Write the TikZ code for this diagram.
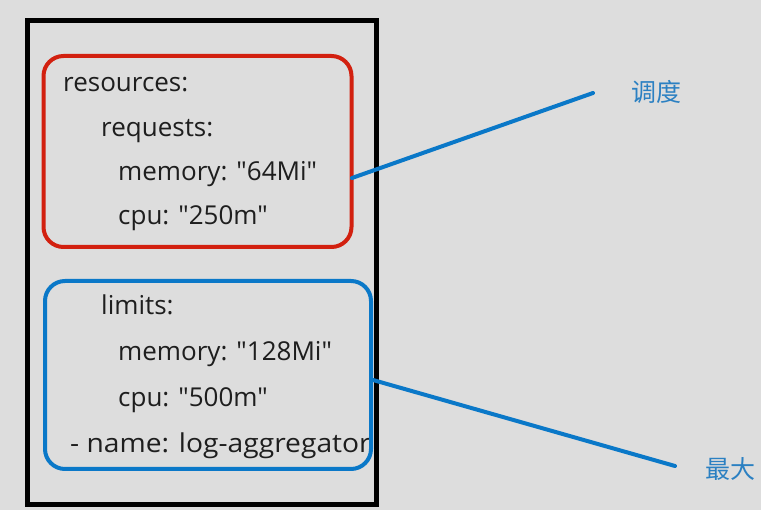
\documentclass[tikz,border=0pt]{standalone}
\usepackage{fontspec}
\usepackage{graphicx}
\newfontfamily\codefont{Open Sans}
\newfontfamily\cjk{Noto Sans CJK SC}
\definecolor{bgc}{HTML}{DDDDDD}
\definecolor{redc}{HTML}{D2200F}
\definecolor{bluec}{HTML}{0A78C8}
\definecolor{lblc}{HTML}{2B80C2}
\definecolor{txtc}{HTML}{1E1E1E}
\tikzset{
  codetext/.style={anchor=base west, inner sep=0pt, text=txtc, font=\codefont\fontsize{26}{30}\selectfont},
  boxframe/.style={draw, line width=4pt, rounded corners=20pt, inner sep=0pt},
  link/.style={draw=bluec, line width=4pt, line cap=round},
  lbl/.style={text=lblc, inner sep=0pt, font=\cjk\fontsize{25}{30}\selectfont}
}
\begin{document}
\begin{tikzpicture}[x=1pt,y=-1pt]
\fill[bgc] (0,0) rectangle (761,510);
\useasboundingbox (0,0) rectangle (761,510);
\node[draw=black, line width=5pt, minimum width=349pt, minimum height=484pt, inner sep=0pt] (outer) at (201.5,263) {};
\node[boxframe, draw=redc, minimum width=308pt, minimum height=191pt] (req) at (197.5,151.5) {};
\node[codetext] (t1) at (63,92) {resources:};
\node[codetext] (t2) at (101,137) {requests:};
\node[codetext] (t3) at (118,181) {memory: "64Mi"};
\node[codetext] (t4) at (118,225) {cpu: "250m"};
\node[codetext] (t5) at (101,315) {limits:};
\node[codetext] (t6) at (118,361) {memory: "128Mi"};
\node[codetext] (t7) at (118,407) {cpu: "500m"};
\node[codetext] (t8) at (70,453) {\scalebox{1.085}[1]{- name: log-aggregator}};
\node[boxframe, draw=bluec, minimum width=326pt, minimum height=188pt] (lim) at (208,375) {};
\coordinate (a1) at (352,178);
\coordinate (e1) at (593,93);
\coordinate (a2) at (373,380);
\coordinate (e2) at (675,466);
\node[lbl] (sched) at (656,92) {调度};
\node[lbl] (maxl) at (730,469) {最大};
\draw[link] (a1) -- (e1);
\draw[link] (a2) -- (e2);
\end{tikzpicture}
\end{document}
